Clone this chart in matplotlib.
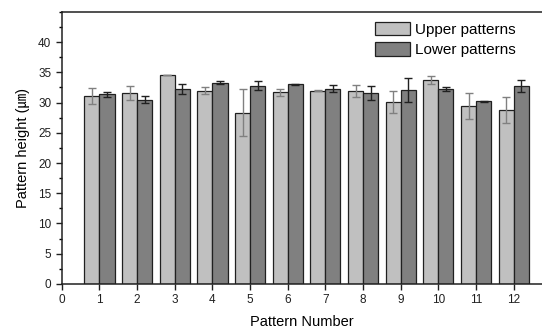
import matplotlib
matplotlib.use("Agg")
import matplotlib.pyplot as plt
import numpy as np
from matplotlib.ticker import MultipleLocator

plt.rcParams['font.family'] = ['Liberation Sans', 'Noto Sans CJK KR', 'DejaVu Sans']

patterns = [1, 2, 3, 4, 5, 6, 7, 8, 9, 10, 11, 12]
upper = [31.1, 31.6, 34.5, 32.0, 28.3, 31.7, 32.0, 31.9, 30.1, 33.7, 29.5, 28.8]
upper_err = [1.3, 1.2, 0.0, 0.5, 3.9, 0.6, 0.15, 0.95, 1.85, 0.65, 2.15, 2.1]
lower = [31.35, 30.5, 32.3, 33.3, 32.8, 33.0, 32.3, 31.6, 32.1, 32.3, 30.2, 32.7]
lower_err = [0.45, 0.6, 0.85, 0.2, 0.75, 0.1, 0.6, 1.2, 2.0, 0.35, 0.05, 1.0]

fig = plt.figure(figsize=(5.42, 3.32), dpi=100)
ax = fig.add_axes([0.114, 0.145, 0.886, 0.819])

x = np.array(patterns, dtype=float)
w = 0.4
ax.bar(x - w/2, upper, width=w, color='#c0c0c0', edgecolor='#202020', linewidth=0.9,
       label='Upper patterns', zorder=2)
ax.bar(x + w/2, lower, width=w, color='#808080', edgecolor='#202020', linewidth=0.9,
       label='Lower patterns', zorder=2)
ax.errorbar(x - w/2, upper, yerr=upper_err, fmt='none', ecolor='#808080',
            elinewidth=1.0, capsize=3, capthick=1.0, zorder=3)
ax.errorbar(x + w/2, lower, yerr=lower_err, fmt='none', ecolor='#202020',
            elinewidth=1.0, capsize=3, capthick=1.0, zorder=3)

ax.set_xlim(0, 12.75)
ax.set_ylim(0, 45)
ax.set_xticks(range(0, 13))
ax.yaxis.set_major_locator(MultipleLocator(5))
ax.yaxis.set_minor_locator(MultipleLocator(2.5))
ax.set_yticks(range(0, 45, 5))
ax.tick_params(axis='both', direction='out', labelsize=8.5, colors='#202020', width=1, length=4)
ax.tick_params(axis='y', which='minor', direction='out', length=2.5, width=1)
ax.spines['right'].set_visible(False)
for s in ['left', 'bottom', 'top']:
    ax.spines[s].set_linewidth(1.1)
    ax.spines[s].set_color('#202020')

ax.set_xlabel('Pattern Number', fontsize=10.5, labelpad=6)
ax.set_ylabel('Pattern height (㎛)', fontsize=10.5, labelpad=6)

ax.legend(loc='upper right', bbox_to_anchor=(0.975, 1.015), frameon=False, fontsize=11,
          handlelength=2.3, handleheight=1.0, handletextpad=0.35, labelspacing=0.35)

fig.savefig('out.png', dpi=100)
